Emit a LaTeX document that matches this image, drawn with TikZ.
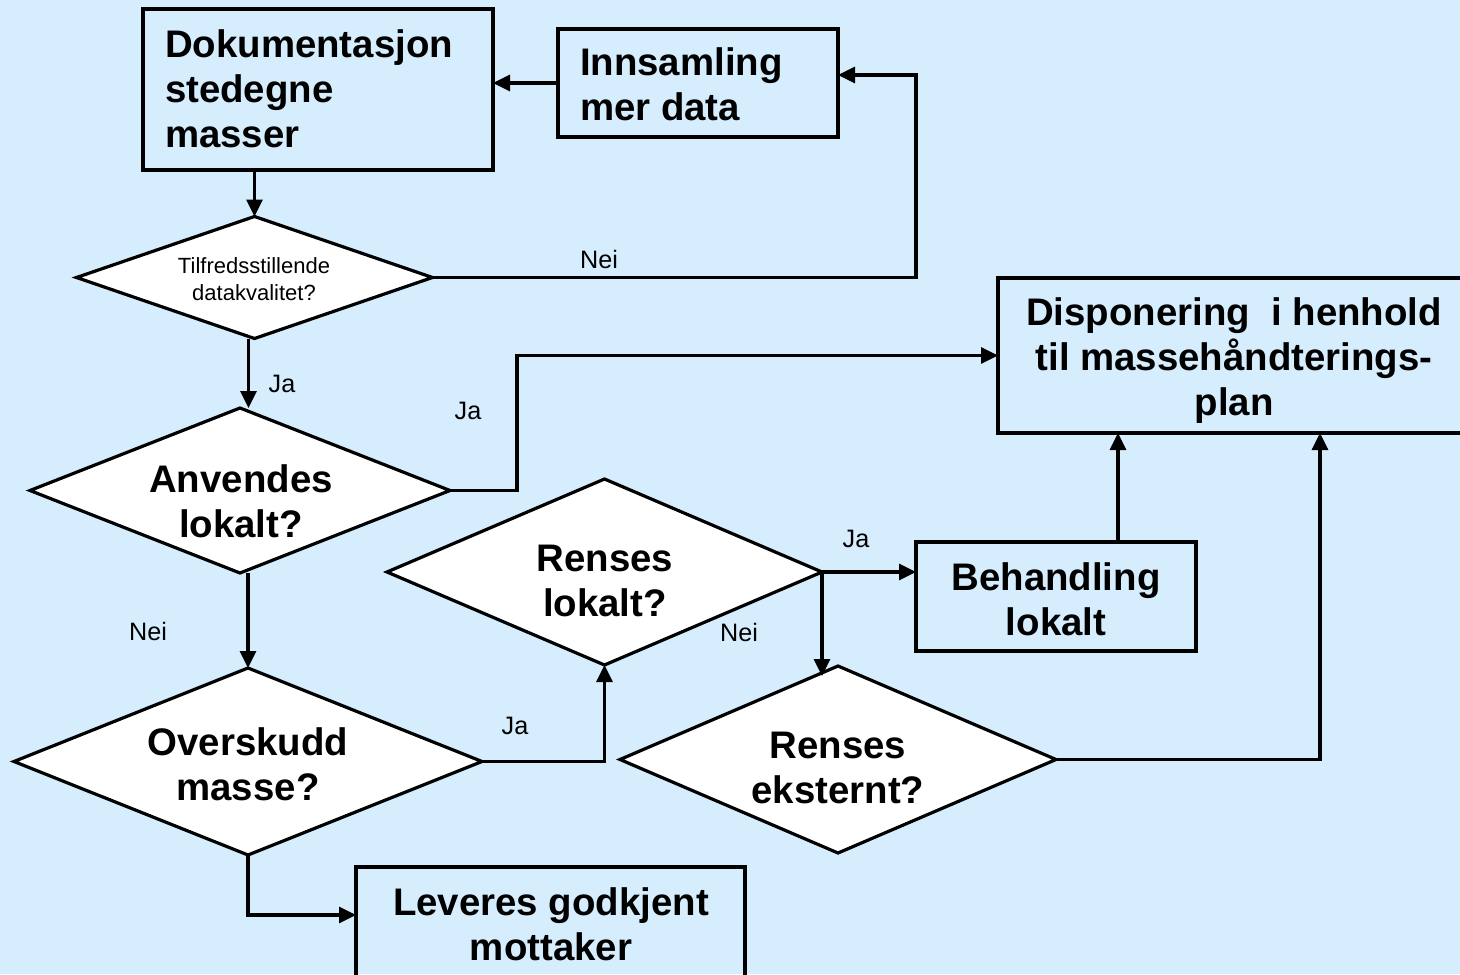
\documentclass[tikz,border=0pt]{standalone}
\usepackage{fontspec}
\setmainfont{Liberation Sans}
\usetikzlibrary{shapes.geometric,arrows.meta,calc}
\definecolor{bgblue}{RGB}{214,237,253}
\begin{document}
\begin{tikzpicture}[x=0.5pt,y=-0.5pt,line width=1.6pt,
  every node/.style={inner sep=0pt,outer sep=0pt},
  box/.style={draw,rectangle},
  dia/.style={draw,diamond,fill=white},
  big/.style={font=\fontsize{19.2}{22.5}\selectfont\bfseries},
  small/.style={font=\fontsize{11}{13.5}\selectfont},
  lbl/.style={font=\fontsize{12.6}{15}\selectfont,anchor=base},
  arr/.style={-{Triangle[length=8.5pt,width=8pt]}}]
\useasboundingbox (0,0) rectangle (1460,974);
\fill[bgblue] (0,0) rectangle (1460,974);
\clip (0,0) rectangle (1460,974);

% shapes
\node[box,minimum width=175pt,minimum height=80.5pt] (dok) at (318,89.5) {};
\node[box,minimum width=140pt,minimum height=54pt] (inn) at (698,83) {};
\node[dia,minimum width=178pt,minimum height=61pt] (d1) at (254.5,277.5) {};
\node[box,minimum width=241pt,minimum height=77.5pt] (disp) at (1239,355.5) {};
\node[dia,minimum width=210pt,minimum height=82.5pt] (d2) at (240,490.5) {};
\node[dia,minimum width=234pt,minimum height=93.5pt] (d3) at (248,761.5) {};
\node[dia,minimum width=217.5pt,minimum height=93pt] (d4) at (604.5,572) {};
\node[box,minimum width=194.5pt,minimum height=61.5pt] (lev) at (550.5,928.5) {};
\node[box,minimum width=140pt,minimum height=54.5pt] (beh) at (1056,596.5) {};
\node[dia,minimum width=218pt,minimum height=93.5pt] (d5) at (838,759.5) {};

% texts
\node[big,align=left,anchor=north west] (tdok) at (165,30) {Dokumentasjon\\stedegne\\masser};
\node[big,align=left,anchor=north west] (tinn) at (580,48) {Innsamling\\mer data};
\node[small,align=center,anchor=north] (td1) at (254,258) {Tilfredsstillende\\datakvalitet?};
\node[big,align=center,anchor=north] (tdisp) at (1234,298) {Disponering~~i henhold\\til massehåndterings-\\plan};
\node[big,align=center,anchor=north] (td2) at (241,465) {Anvendes\\lokalt?};
\node[big,align=center,anchor=north] (td3) at (248,728) {Overskudd\\masse?};
\node[big,align=center,anchor=north] (td4) at (605,545) {Renses\\lokalt?};
\node[big,align=center,anchor=north] (td5) at (838,732) {Renses\\eksternt?};
\node[big,align=center,anchor=north] (tbeh) at (1056,563) {Behandling\\lokalt};
\node[big,align=center,anchor=north] (tlev) at (551,888) {Leveres godkjent\\mottaker};

% helper coordinates
\coordinate (c1) at (916,75);
\coordinate (c2) at (517,355.5);
\coordinate (c3) at (356,915);
\coordinate (c4) at (822,676);
\coordinate (c5) at (1320,433);
\coordinate (c6) at (1118,433);

% connectors
\draw[arr] (inn.west) -- (dok.east |- inn.west);
\draw[arr] (d1.north |- dok.south) -- (d1.north);
\draw[arr] (d1.east) -| (c1) -- (inn.east |- c1);
\draw[arr] ([xshift=-3pt]d1.south) -- ([xshift=-3pt]d1.south |- d2.north);
\draw[arr] (d2.east) -| (c2) -- (disp.west);
\draw[arr] (d3.north |- d2.south) -- (d3.north);
\draw[arr] (d3.east) -| (d4.south);
\draw[arr] (d3.south) |- (c3);
\draw[arr] (d4.east) -- (d4.east -| beh.west);
\draw[arr] (d4.east) -- (c4);
\draw[arr] (c6 |- beh.north) -- (c6);
\draw[arr] (d5.east) -| (c5);

% labels
\node[lbl] (l1) at (599,268) {Nei};
\node[lbl] (l2) at (282,392) {Ja};
\node[lbl] (l3) at (468,419) {Ja};
\node[lbl] (l4) at (148,640) {Nei};
\node[lbl] (l5) at (515,734) {Ja};
\node[lbl] (l6) at (856,547) {Ja};
\node[lbl] (l7) at (739,641) {Nei};
\end{tikzpicture}
\end{document}
